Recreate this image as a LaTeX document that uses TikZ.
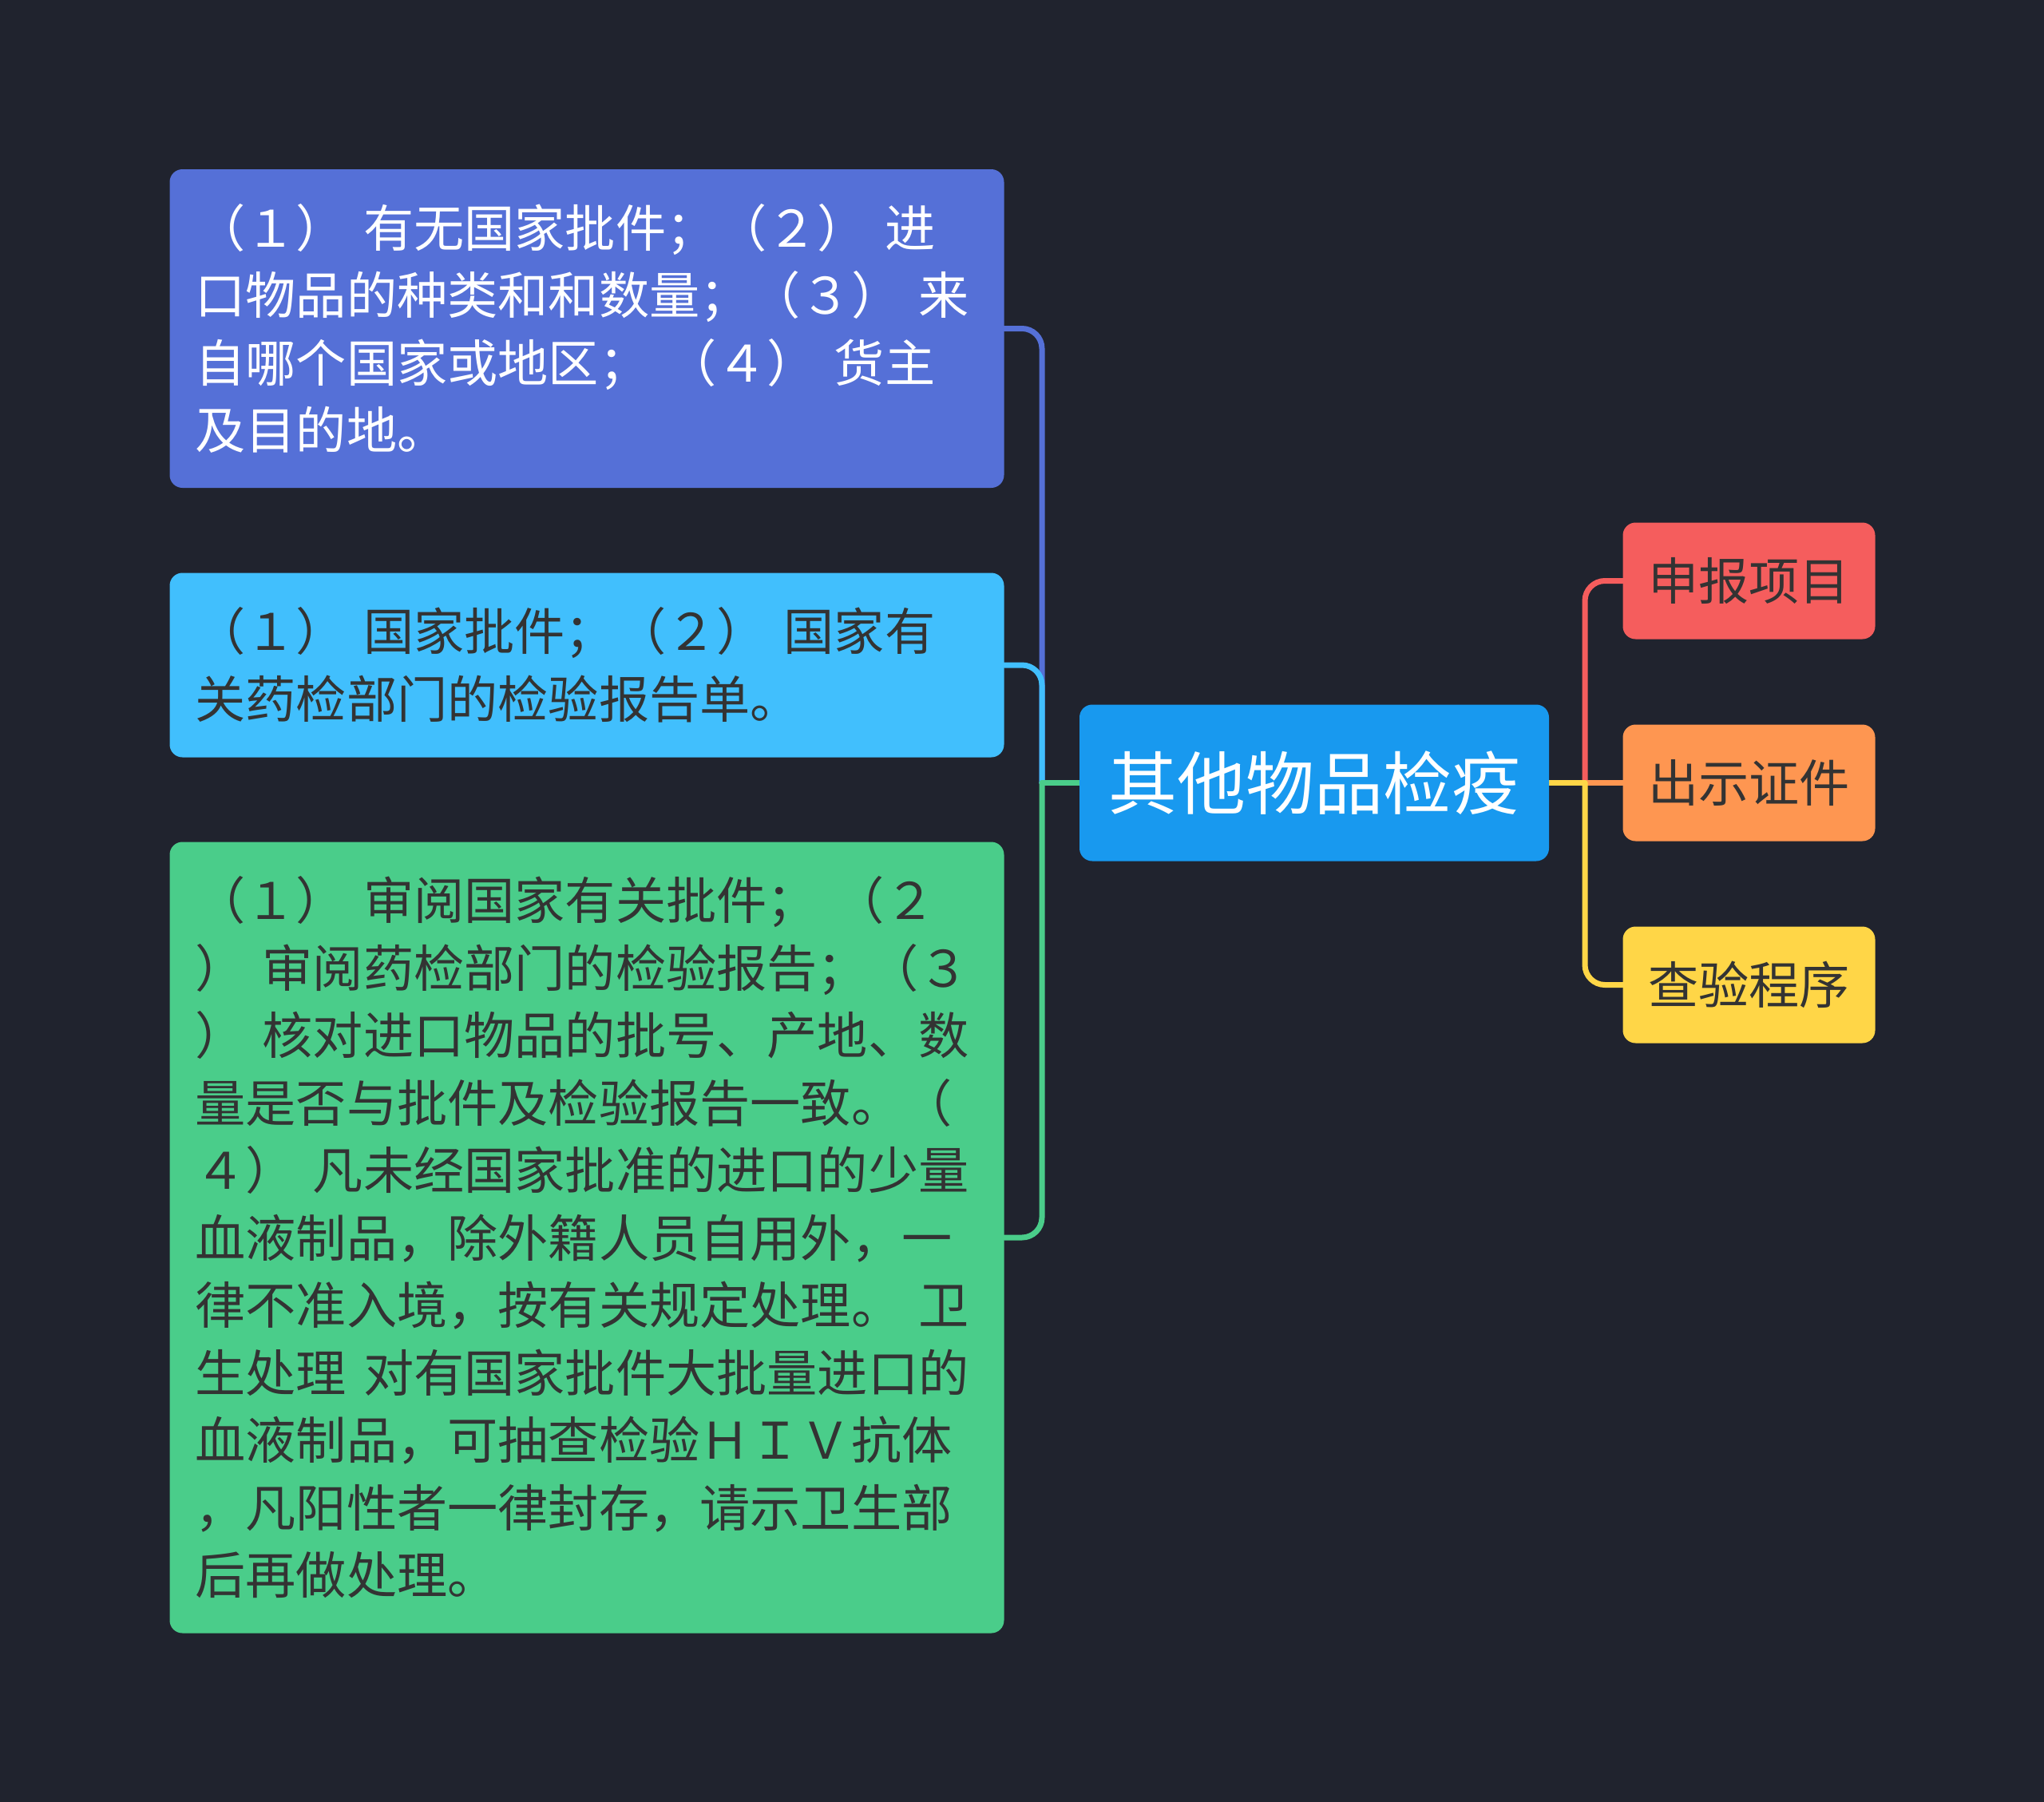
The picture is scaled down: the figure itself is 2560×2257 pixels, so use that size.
\documentclass[tikz,border=0pt]{standalone}
\usepackage{fontspec}
\setmainfont{Noto Sans CJK SC}
\definecolor{bgc}{HTML}{20232E}
\definecolor{cone}{HTML}{5570D7}
\definecolor{ctwo}{HTML}{41BFFD}
\definecolor{cthree}{HTML}{4ACD8A}
\definecolor{ccenter}{HTML}{1899EF}
\definecolor{cred}{HTML}{F55D5D}
\definecolor{corange}{HTML}{FE9651}
\definecolor{cyellow}{HTML}{FFD647}
\definecolor{txt}{HTML}{333333}
\pgfdeclarelayer{back}
\pgfdeclarelayer{links}
\pgfsetlayers{back,links,main}
\tikzset{
  conn/.style={line width=7pt, line cap=round},
  boxnode/.style={rectangle, rounded corners=16pt, inner xsep=32pt, inner ysep=0pt,
    align=left, text width=981pt, font=\fontsize{63.2}{84.5}\selectfont},
  topic/.style={rectangle, rounded corners=16pt, inner sep=0pt, minimum width=316pt,
    minimum height=146pt, text=txt, font=\fontsize{63.2}{76}\selectfont},
}
\begin{document}
\begin{tikzpicture}[x=1pt,y=-1pt]
\begin{pgfonlayer}{back}
\fill[bgc] (0,0) rectangle (2560,2257);
\end{pgfonlayer}
\useasboundingbox (0,0) rectangle (2560,2257);

% main topic
\node[rectangle, rounded corners=16pt, fill=ccenter, minimum width=588pt, minimum height=196pt,
  inner sep=0pt, text=white, font=\fontsize{86}{100}\selectfont] (c) at (1646,980.5) {其他物品检疫};

% left boxes
\node[boxnode, fill=cone, text=white, minimum height=399pt] (b1) at (735,411.5)
{（１）~有无国家批件；（２）~进\\
口物品的种类和和数量；（３）~来\\
自哪个国家或地区；~（４）~货主\\
及目的地。};

\node[boxnode, fill=ctwo, text=txt, minimum height=231pt] (b2) at (735,833)
{（１）~国家批件；（２）~国家有\\
关药检部门的检验报告单。};

\node[boxnode, fill=cthree, text=txt, minimum height=991pt] (b3) at (735,1550)
{（１）~审阅国家有关批件；~（２\\
）~审阅药检部门的检验报告；（３\\
）~核对进口物品的批号、产地、数\\
量是否与批件及检验报告一致。（\\
４）~凡未经国家批准的进口的少量\\
血液制品，除外籍人员自用外，一\\
律不准入境，按有关规定处理。~卫\\
生处理~对有国家批件大批量进口的\\
血液制品，可抽查检验ＨＩＶ抗体\\
，凡阳性者一律封存，请示卫生部\\
后再做处理。};

% right topics
\node[topic, fill=cred] (r1) at (2190.5,727.5) {申报项目};
\node[topic, fill=corange] (r2) at (2190.5,980.5) {出示证件};
\node[topic, fill=cyellow] (r3) at (2190.5,1233.5) {查验程序};

\coordinate (jl) at (1305,980.5);
\coordinate (jr) at (1985,980.5);

\begin{pgfonlayer}{links}
\draw[conn, cone] (c.west) -- (jl);
\draw[conn, cone, rounded corners=25pt] (jl) |- (b1.east);
\draw[conn, ctwo] (c.west) -- (jl);
\draw[conn, ctwo, rounded corners=25pt] (jl) |- (b2.east);
\draw[conn, cthree] (c.west) -- (jl);
\draw[conn, cthree, rounded corners=25pt] (jl) |- (b3.east);

\draw[conn, cred] (c.east) -- (jr);
\draw[conn, cred, rounded corners=25pt] (jr) |- (r1.west);
\draw[conn, corange] (c.east) -- (r2.west);
\draw[conn, cyellow] (c.east) -- (jr);
\draw[conn, cyellow, rounded corners=25pt] (jr) |- (r3.west);
\end{pgfonlayer}
\end{tikzpicture}
\end{document}
